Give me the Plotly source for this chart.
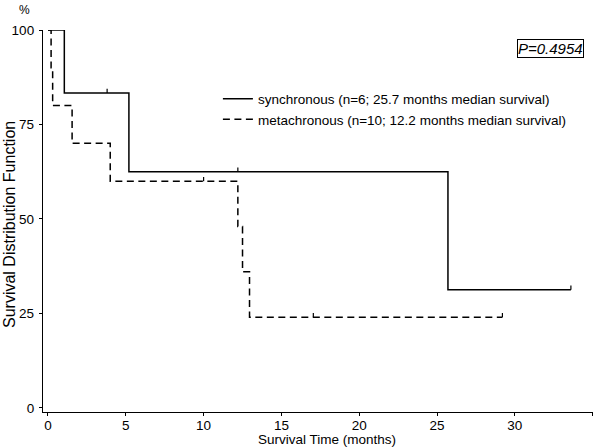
import plotly.graph_objects as go

# Kaplan-Meier step data
sync_time = [0, 1.05, 5.2, 25.7, 33.6]
sync_surv = [100, 83.33, 62.5, 31.25, 31.25]
sync_censor = [3.8, 12.2, 33.6]

meta_time = [0, 0.2, 0.3, 1.55, 4.0, 12.2, 12.5, 12.95, 29.2]
meta_surv = [100, 90, 80, 70, 60, 48, 36, 24, 24]
meta_censor = [10.0, 17.05, 29.2]

x_ticks = [0, 5, 10, 15, 20, 25, 30, 35]
y_ticks = [0, 25, 50, 75, 100]

sync_label = "synchronous (n=6; 25.7 months median survival)"
meta_label = "metachronous (n=10; 12.2 months median survival)"
p_text = "P=0.4954"

FONT = "Liberation Sans, Arial, Helvetica, sans-serif"


def surv_at(t, times, surv):
    """Survival value of a step curve at time t"""
    s = surv[0]
    for ti, si in zip(times, surv):
        if ti <= t:
            s = si
    return s


def censor_ticks(censor, times, surv, h=1.1):
    xs, ys = [], []
    for c in censor:
        s = surv_at(c, times, surv)
        xs += [c, c, None]
        ys += [s, s + h, None]
    return xs, ys


fig = go.Figure()

fig.add_trace(go.Scatter(
    x=sync_time, y=sync_surv, mode="lines", line_shape="hv",
    line=dict(color="black", width=1.5), name=sync_label,
))
fig.add_trace(go.Scatter(
    x=meta_time, y=meta_surv, mode="lines", line_shape="hv",
    line=dict(color="black", width=1.5, dash="7px,4.5px"), name=meta_label,
))

cx, cy = censor_ticks(sync_censor, sync_time, sync_surv)
fig.add_trace(go.Scatter(x=cx, y=cy, mode="lines", showlegend=False,
                         line=dict(color="black", width=1.2)))
cx, cy = censor_ticks(meta_censor, meta_time, meta_surv)
fig.add_trace(go.Scatter(x=cx, y=cy, mode="lines", showlegend=False,
                         line=dict(color="black", width=1.2)))

axis_style = dict(showline=True, linecolor="black", linewidth=1.3,
                  ticks="outside", ticklen=3, tickwidth=1.2, tickcolor="black",
                  showgrid=False, zeroline=False, automargin=False,
                  tickfont=dict(size=13.5))

fig.update_layout(
    width=600, height=448,
    margin=dict(l=43, r=7, t=30, b=36),
    paper_bgcolor="white", plot_bgcolor="white",
    font=dict(family=FONT, size=13, color="black"),
    legend=dict(x=0.318, y=0.86, xanchor="left", yanchor="top",
                bgcolor="rgba(0,0,0,0)", font=dict(size=13.5),
                tracegroupgap=0, itemwidth=30),
    xaxis=dict(range=[-0.32, 35.02], tickvals=x_ticks, ticklabelstandoff=-2,
               **axis_style),
    yaxis=dict(range=[-1.1, 100], tickvals=y_ticks, ticklabelstandoff=2,
               **axis_style),
    showlegend=True,
)

fig.add_annotation(text="Survival Time (months)", xref="paper", yref="paper",
                   x=0.5155, y=-0.0707, xanchor="center", yanchor="middle",
                   showarrow=False, font=dict(size=13.5))
fig.add_annotation(text="Survival Distribution Function", xref="paper",
                   yref="paper", x=-0.0618, y=0.4895, textangle=-90,
                   xanchor="center", yanchor="middle",
                   showarrow=False, font=dict(size=16))
fig.add_annotation(text="%", xref="paper", yref="paper", x=0, y=1.052,
                   xanchor="center", yanchor="middle", xshift=-19,
                   showarrow=False, font=dict(size=12))
fig.add_annotation(text="<i>" + p_text + "</i>", xref="paper", yref="paper",
                   x=0.9836, y=0.976, xanchor="right", yanchor="top",
                   showarrow=False, font=dict(size=15),
                   bordercolor="black", borderwidth=1, borderpad=0)

# page body has a default 8px margin; drop it so the figure sits at 0,0
fig.write_html("out.html", config={"displayModeBar": False},
               post_script="document.body.style.margin='0';")
